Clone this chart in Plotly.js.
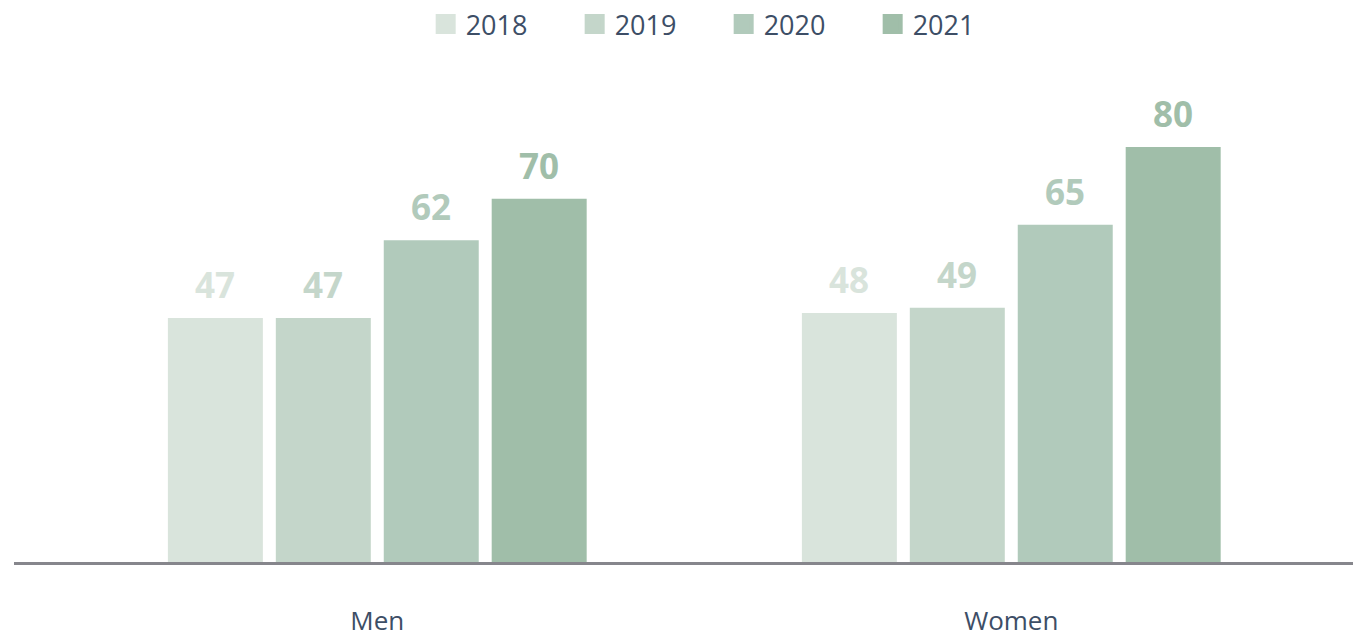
<!DOCTYPE html>
<html><head><meta charset="utf-8">
<script src="https://cdn.plot.ly/plotly-3.0.1.min.js"></script>
<style>html,body{margin:0;padding:0;background:#fff}#chart{width:1353px;height:637px}</style>
</head><body><div id="chart"></div>
<script>
const categories = ["Men", "Women"];
const years = ["2018", "2019", "2020", "2021"];
const values2018 = [47, 48];
const values2019 = [47, 49];
const values2020 = [62, 65];
const values2021 = [70, 80];
const colors = ["#d9e4dc", "#c4d6ca", "#b1cabb", "#a0bea9"];

const series = [values2018, values2019, values2020, values2021];
const bargap = 0.319;
const groupgap = 0.12;
const FONT = "Open Sans, Lato, sans-serif";
const TEXTC = "#3d4e66";

const traces = [];
series.forEach((vals, i) => {
  traces.push({
    type: "bar", x: categories, y: vals, name: years[i],
    marker: {color: colors[i]}, showlegend: false, hoverinfo: "x+y"
  });
});
// legend proxies
series.forEach((vals, i) => {
  traces.push({
    type: "scatter", mode: "markers", x: [null], y: [null], name: years[i],
    marker: {symbol: "square", size: 16, color: colors[i], line: {color: colors[i], width: 4}},
    showlegend: true, hoverinfo: "skip"
  });
});

const slot = (1 - bargap) / series.length;
const annotations = [];
series.forEach((vals, i) => {
  vals.forEach((v, c) => {
    annotations.push({
      x: c + (i - (series.length - 1) / 2) * slot, y: v, xref: "x", yref: "y",
      text: "<b>" + v + "</b>", showarrow: false, yanchor: "bottom", yshift: 8,
      font: {family: FONT, size: 35, color: colors[i], weight: 800}
    });
  });
});

const layout = {
  width: 1353, height: 637,
  margin: {l: 14, r: 0, t: 95, b: 75},
  paper_bgcolor: "#ffffff", plot_bgcolor: "#ffffff",
  barmode: "group", bargap: bargap, bargroupgap: groupgap,
  font: {family: FONT, color: TEXTC},
  xaxis: {
    type: "category", range: [-0.573, 1.539],
    showline: true, linecolor: "#86868c", linewidth: 3, layer: "above traces",
    showgrid: false, zeroline: false, ticks: "", ticklabelstandoff: 34,
    tickfont: {family: FONT, size: 26, color: TEXTC}
  },
  yaxis: {range: [0, 90], visible: false, showgrid: false, zeroline: false},
  showlegend: true,
  legend: {
    orientation: "h", x: 0.530, xanchor: "center", y: 1, yref: "container", yanchor: "top",
    font: {family: FONT, size: 27, color: TEXTC}, entrywidth: 104, itemwidth: 30,
    bgcolor: "rgba(0,0,0,0)"
  },
  annotations: annotations
};

Plotly.newPlot("chart", traces, layout, {displayModeBar: false, staticPlot: true});
</script>
</body></html>
